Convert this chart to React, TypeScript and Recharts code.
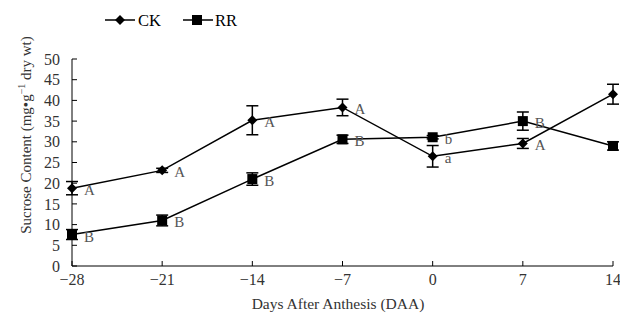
import React from 'react'
import {
  LineChart,
  Line,
  XAxis,
  YAxis,
  ErrorBar,
  LabelList,
  Legend,
} from 'recharts'

const days = [-28, -21, -14, -7, 0, 7, 14]
const ckValues = [18.8, 23.1, 35.2, 38.3, 26.5, 29.6, 41.5]
const ckErrors = [1.6, 0.5, 3.5, 2.0, 2.6, 1.2, 2.4]
const ckLetters = ['A', 'A', 'A', 'A', 'a', 'A', '']
const rrValues = [7.6, 11.0, 21.0, 30.6, 31.1, 35.0, 29.0]
const rrErrors = [1.2, 1.3, 1.5, 1.0, 0.4, 2.2, 1.0]
const rrLetters = ['B', 'B', 'B', 'B', 'b', 'B', '']
const yTicks = [0, 5, 10, 15, 20, 25, 30, 35, 40, 45, 50]

const data = days.map((d, i) => ({
  day: d,
  ck: ckValues[i],
  ckErr: ckErrors[i],
  ckLbl: ckLetters[i],
  rr: rrValues[i],
  rrErr: rrErrors[i],
  rrLbl: rrLetters[i],
}))

const FONT = '"Liberation Serif", "Times New Roman", serif'
const TEXT = '#333'

const Diamond = ({ cx, cy, size = 5 }: any) => (
  <path d={`M${cx},${cy - size}L${cx + size},${cy}L${cx},${cy + size}L${cx - size},${cy}Z`} fill="#000" />
)

const Square = ({ cx, cy, size = 5 }: any) => (
  <rect x={cx - size} y={cy - size} width={size * 2} height={size * 2} fill="#000" />
)

const Letter = ({ x, y, value }: any) =>
  value ? (
    <text x={x + 12} y={y + 7} fill="#555" fontSize={15} fontFamily={FONT}>
      {value}
    </text>
  ) : null

const LegendBox = () => (
  <svg width={170} height={22}>
    <line x1={5} x2={35} y1={11} y2={11} stroke="#000" strokeWidth={1.5} />
    <Diamond cx={20} cy={11} size={5} />
    <text x={38} y={17} fontSize={16.5} fontFamily={FONT} fill="#000">CK</text>
    <line x1={83} x2={113} y1={11} y2={11} stroke="#000" strokeWidth={1.5} />
    <Square cx={97} cy={11} size={5} />
    <text x={115} y={17} fontSize={16.5} fontFamily={FONT} fill="#000">RR</text>
  </svg>
)

const XTitle = () => (
  <text x={338} y={309} textAnchor="middle" fontSize={15.5} fill={TEXT} fontFamily={FONT}>
    Days After Anthesis (DAA)
  </text>
)

const YTitle = () => (
  <text
    x={31}
    y={135}
    transform="rotate(-90, 31, 135)"
    textAnchor="middle"
    fontSize={15}
    fill={TEXT}
    fontFamily={FONT}
  >
    Sucrose Content (mg{'\u2022'}g<tspan fontSize={10} dy={-6}>{'\u2212'}1</tspan>
    <tspan dy={6}> dry wt)</tspan>
  </text>
)

export default function App() {
  return (
    <div style={{ position: 'absolute', left: 0, top: 0, background: '#fff' }}>
      <LineChart
        width={620}
        height={313}
        data={data}
        margin={{ top: 33, right: 7, bottom: 2, left: 0 }}
      >
        <XAxis
          dataKey="day"
          type="number"
          domain={[-28, 14]}
          ticks={days}
          interval={0}
          tickFormatter={(v) => String(v).replace('-', '\u2212')}
          height={45}
          stroke="#000"
          tickSize={-5}
          tickMargin={13}
          tick={{ fontSize: 16, fill: TEXT, fontFamily: FONT }}
          label={{ content: <XTitle /> }}
        />
        <YAxis
          type="number"
          domain={[0, 50]}
          ticks={yTicks}
          interval={0}
          width={72}
          stroke="#000"
          tickSize={-5}
          tickMargin={17}
          tick={{ fontSize: 16, fill: TEXT, fontFamily: FONT }}
          label={{ content: <YTitle /> }}
        />
        <Legend
          verticalAlign="top"
          content={() => <LegendBox />}
          wrapperStyle={{ top: 9, left: 100, width: 170 }}
        />
        <Line
          dataKey="ck"
          name="CK"
          stroke="#000"
          strokeWidth={1.5}
          dot={<Diamond size={5} />}
          activeDot={false}
          isAnimationActive={false}
        >
          <ErrorBar dataKey="ckErr" width={6} stroke="#000" strokeWidth={1.5} direction="y" />
          <LabelList dataKey="ckLbl" content={<Letter />} />
        </Line>
        <Line
          dataKey="rr"
          name="RR"
          stroke="#000"
          strokeWidth={1.5}
          dot={<Square size={5} />}
          activeDot={false}
          isAnimationActive={false}
        >
          <ErrorBar dataKey="rrErr" width={6} stroke="#000" strokeWidth={1.5} direction="y" />
          <LabelList dataKey="rrLbl" content={<Letter />} />
        </Line>
      </LineChart>
    </div>
  )
}
